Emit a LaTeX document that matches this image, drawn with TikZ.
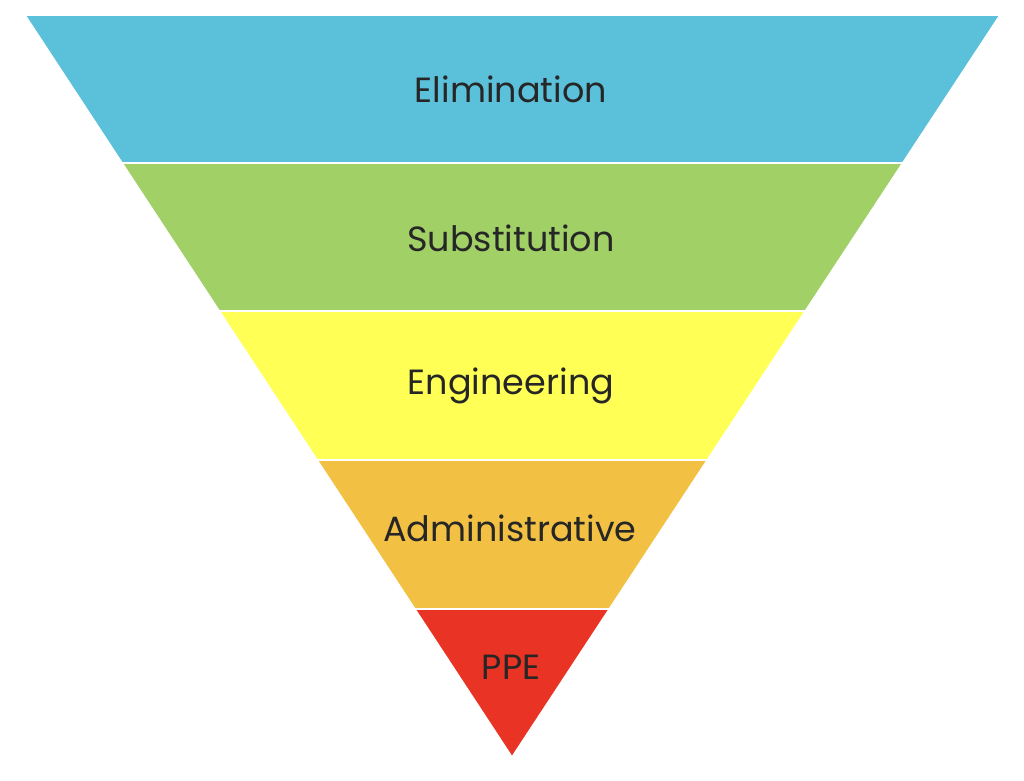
\documentclass[tikz,border=0pt]{standalone}
\usepackage{fontspec}
\setmainfont{Poppins}
\definecolor{cA}{HTML}{5BC0DA}
\definecolor{cB}{HTML}{A0D066}
\definecolor{cC}{HTML}{FFFF55}
\definecolor{cD}{HTML}{F2C144}
\definecolor{cE}{HTML}{E83325}
\begin{document}
\begin{tikzpicture}[x=1pt,y=-1pt,
  band/.style={draw=white,line width=1.5pt,line join=miter},
  lbl/.style={font=\fontsize{35}{40}\selectfont,text=black!85}]
\useasboundingbox[fill=white] (0,0) rectangle (1024,780);
\fill[band,fill=cA] (25,15) -- (1000,15) -- (902.7,163) -- (122.1,163) -- cycle;
\fill[band,fill=cB] (122.1,163) -- (902.7,163) -- (805.3,311) -- (219.3,311) -- cycle;
\fill[band,fill=cC] (219.3,311) -- (805.3,311) -- (707.3,460) -- (317.1,460) -- cycle;
\fill[band,fill=cD] (317.1,460) -- (707.3,460) -- (609.3,609) -- (414.9,609) -- cycle;
\fill[band,fill=cE] (414.9,609) -- (609.3,609) -- (512,757) -- cycle;
\draw[white,line width=1.5pt] (122.1,163) -- (902.7,163) (219.3,311) -- (805.3,311) (317.1,460) -- (707.3,460) (414.9,609) -- (609.3,609);
\node[lbl] (t1) at (511,89) {Elimination};
\node[lbl] (t2) at (511,238) {Substitution};
\node[lbl] (t3) at (511,386) {Engineering};
\node[lbl] (t4) at (510,528) {Administrative};
\node[lbl] (t5) at (511,667) {PPE};
\end{tikzpicture}
\end{document}
